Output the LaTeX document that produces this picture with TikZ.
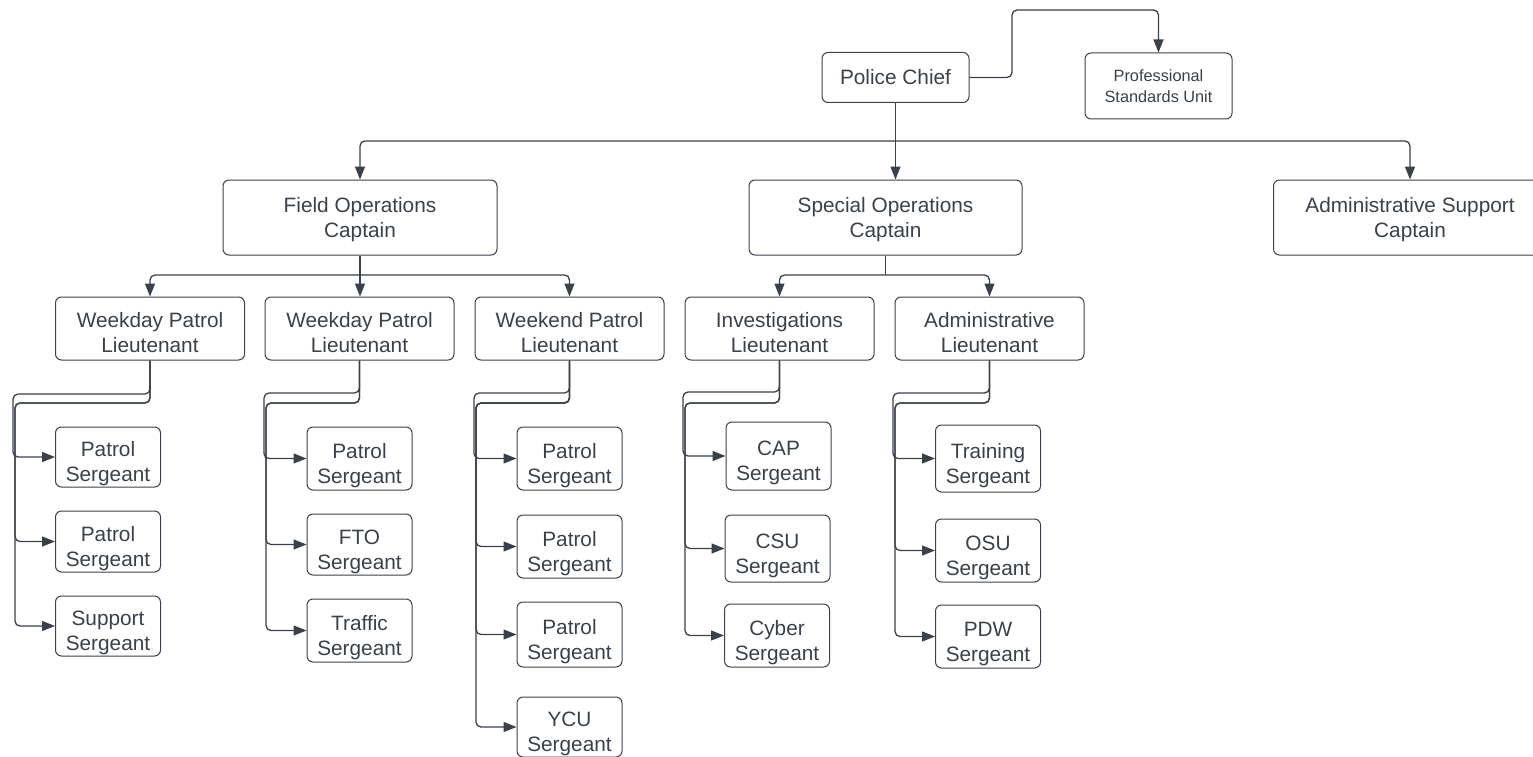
\documentclass[tikz,border=0pt]{standalone}
\usepackage{fontspec}
\setmainfont{Liberation Sans}
\usetikzlibrary{arrows.meta}
\definecolor{ink}{HTML}{3A414A}
\newcommand\dropto[1]{\rule{0pt}{#1}}
\tikzset{
  box/.style={draw=ink, line width=1pt, rounded corners=6pt, align=center, text=ink,
    inner sep=0pt, font=\fontsize{20.8}{25}\selectfont},
  small/.style={font=\fontsize{16.3}{21}\selectfont},
  conn/.style={draw=ink, line width=1.3pt, rounded corners=5pt, -{Triangle[length=13pt,width=10pt]}},
  plain/.style={draw=ink, line width=1.3pt, rounded corners=5pt},
}
\begin{document}
\begin{tikzpicture}[x=1pt,y=-1pt]
\clip (0,0) rectangle (1533,757);
\fill[white] (0,0) rectangle (1533,757);
% top
\node[box, minimum width=147pt, minimum height=50pt] (chief) at (895.5,77.5) {Police Chief};
\node[box, small, minimum width=147pt, minimum height=66pt] (psu) at (1158.5,86) {Professional\\Standards Unit};
\node[box, minimum width=274pt, minimum height=75pt] (foc) at (360,217.5) {\dropto{19pt}Field Operations\\Captain};
\node[box, minimum width=273pt, minimum height=75pt] (soc) at (885.5,217.5) {\dropto{19pt}Special Operations\\Captain};
\node[box, minimum width=273pt, minimum height=75pt] (asc) at (1410,217.5) {\dropto{19pt}Administrative Support\\Captain};
% lieutenants
\foreach \n/\x/\a/\b in {l1/150/Weekday Patrol/Lieutenant, l2/359.5/Weekday Patrol/Lieutenant,
  l3/569.5/Weekend Patrol/Lieutenant, l4/779.5/Investigations/Lieutenant, l5/989.5/Administrative/Lieutenant}
  \node[box, minimum width=189pt, minimum height=63pt] (\n) at (\x,328.5) {\dropto{23pt}\a\\\b};
% sergeants
\foreach \n/\x/\y/\h/\a in {
  s11/108/457/60/Patrol, s12/108/541.5/61/Patrol, s13/108/626/60/Support,
  s21/359.5/458.5/63/Patrol, s22/359.5/544.5/61/FTO, s23/359.5/630.5/63/Traffic,
  s31/569.5/458.5/63/Patrol, s32/569.5/546.5/63/Patrol, s33/569.5/634.5/65/Patrol, s34/569.5/727/60/YCU,
  s41/778.5/456/68/CAP, s42/777.5/548.5/67/CSU, s43/777/635.5/63/Cyber,
  s51/988/458.5/67/Training, s52/988/550.5/63/OSU, s53/988/636.5/63/PDW}
  \node[box, minimum width=105pt, minimum height=\h pt] (\n) at (\x,\y) {\dropto{29pt}\a\\Sergeant};
% chief connectors
\draw[conn] (chief.east) -| (1012,10) -| (psu.north);
\coordinate (b0) at (895.5,141);
\draw[plain] (chief.south) -- (b0);
\draw[conn] (b0) -| (foc.north);
\draw[conn] (b0) -- (soc.north -| b0);
\draw[conn] (b0) -| (asc.north);
% captain connectors
\coordinate (b1) at (360,275);
\draw[plain] (foc.south) -- (b1);
\draw[conn] (b1) -| (l1.north);
\draw[conn] (b1) -- (l2.north -| b1);
\draw[conn] (b1) -| (l3.north);
\coordinate (b2) at (885.5,275);
\draw[plain] (soc.south) -- (b2);
\draw[conn] (b2) -| (l4.north);
\draw[conn] (b2) -| (l5.north);
% lieutenant -> sergeants
\draw[conn] (l1.south) |- (13,394) |- (s11.west);
\draw[conn] (l1.south) |- (15,403) |- (s12.west);
\draw[conn] (l1.south) |- (15,403) |- (s13.west);
\draw[conn] (l2.south) |- (264,393) |- (s21.west);
\draw[conn] (l2.south) |- (266,403) |- (s22.west);
\draw[conn] (l2.south) |- (266,403) |- (s23.west);
\draw[conn] (l3.south) |- (474,393) |- (s31.west);
\draw[conn] (l3.south) |- (476,403) |- (s32.west);
\draw[conn] (l3.south) |- (476,403) |- (s33.west);
\draw[conn] (l3.south) |- (476,403) |- (s34.west);
\draw[conn] (l4.south) |- (683,392) |- (s41.west);
\draw[conn] (l4.south) |- (685,403) |- (s42.west);
\draw[conn] (l4.south) |- (685,403) |- (s43.west);
\draw[conn] (l5.south) |- (893,393) |- (s51.west);
\draw[conn] (l5.south) |- (895,403) |- (s52.west);
\draw[conn] (l5.south) |- (895,403) |- (s53.west);
\end{tikzpicture}
\end{document}
